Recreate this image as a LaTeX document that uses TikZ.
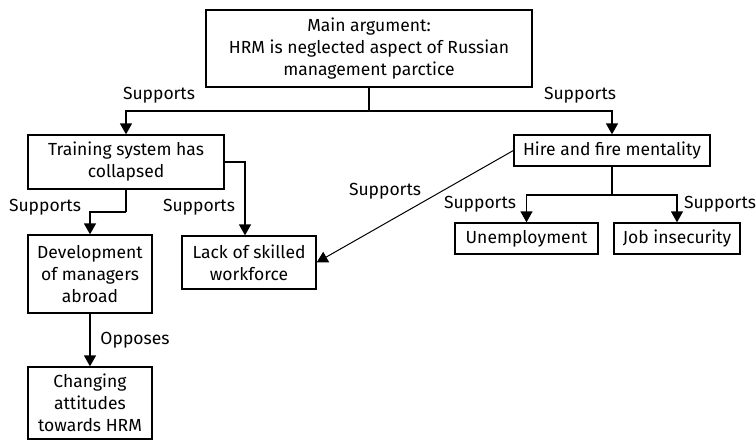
\documentclass[tikz,border=0pt]{standalone}
\usepackage{fontspec}
\setmainfont{Fira Sans}
\usetikzlibrary{arrows.meta,positioning,calc}

\begin{document}
\begin{tikzpicture}[x=1pt, y=-1pt,
  box/.style={rectangle, draw, line width=1.3pt, align=center, inner sep=2pt,
              font=\fontsize{17.5}{22}\selectfont},
  lbl/.style={font=\fontsize{17.5}{22}\selectfont, inner sep=1pt},
  edge/.style={draw, line width=1.3pt, -{Triangle[length=11pt,width=12pt]}},
]
  \useasboundingbox (0,0) rectangle (756,440);

  % Boxes
  \node[box, minimum width=326pt, minimum height=77pt] (main) at (369,48.5)
       {Main argument:\\HRM is neglected aspect of Russian\\management parctice};
  \node[box, minimum width=196pt, minimum height=54pt] (training) at (126,162)
       {Training system has\\collapsed};
  \node[box, minimum width=196pt, minimum height=31pt] (hire) at (612,150.5)
       {Hire and fire mentality};
  \node[box, minimum width=134pt, minimum height=53pt] (lack) at (249,262.5)
       {Lack of skilled\\workforce};
  \node[box, minimum width=124pt, minimum height=78pt] (devel) at (90,274)
       {Development\\of managers\\abroad};
  \node[box, minimum width=124pt, minimum height=72pt] (changing) at (90,403)
       {Changing\\attitudes\\towards HRM};
  \node[box, minimum width=143pt, minimum height=31pt] (unemp) at (526.5,238.5)
       {Unemployment};
  \node[box, minimum width=126pt, minimum height=31pt] (jobins) at (677,238.5)
       {Job insecurity};

  % Forks
  \coordinate (mainfork) at (369,111);
  \coordinate (trainfork) at (126,212);
  \coordinate (hirefork) at (612,195);

  % Connectors
  \draw[line width=1.3pt] (main.south) -- (mainfork);
  \draw[edge] (mainfork) -| (training.north);
  \draw[edge] (mainfork) -| (hire.north);
  \draw[edge] (training.east) -| ([xshift=-4pt]lack.north);
  \draw[line width=1.3pt] (training.south) -- (trainfork);
  \draw[edge] (trainfork) -| (devel.north);
  \draw[edge] (devel.south) -- (changing.north);
  \draw[edge, line width=1pt] (hire.west) -- (lack.east);
  \draw[line width=1.3pt] (hire.south) -- (hirefork);
  \draw[edge] (hirefork) -| (unemp.north);
  \draw[edge] (hirefork) -| (jobins.north);

  % Labels
  \node[lbl] (supmainl) at (159,95) {Supports};
  \node[lbl] (supmainr) at (580,95) {Supports};
  \node[lbl] (suptraindev) at (45,207) {Supports};
  \node[lbl] (suptrainlack) at (199,207) {Supports};
  \node[lbl] (suphirelack) at (385,191) {Supports};
  \node[lbl] (opposes) at (135,340) {Opposes};
  \node[lbl] (suphireun) at (480,204) {Supports};
  \node[lbl] (suphirejob) at (720,204) {Supports};
\end{tikzpicture}
\end{document}
